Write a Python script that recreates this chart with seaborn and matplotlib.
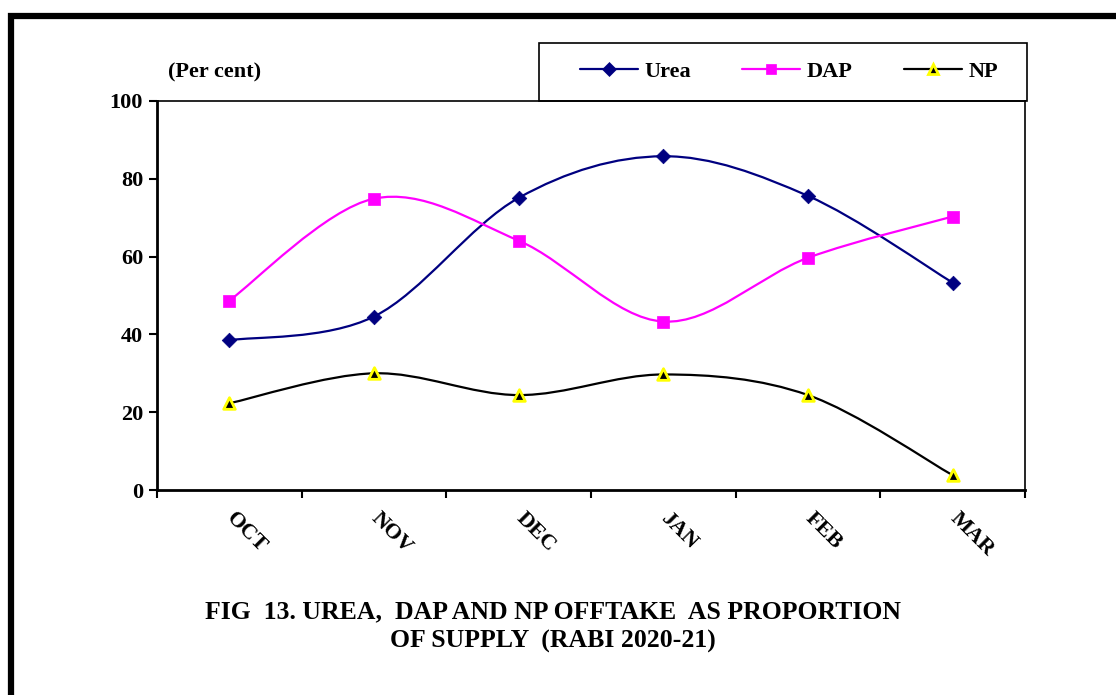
import numpy as np
import matplotlib
matplotlib.use("Agg")
import matplotlib.pyplot as plt
from matplotlib.path import Path
from matplotlib.patches import PathPatch, Rectangle
from matplotlib.lines import Line2D
import seaborn as sns

# data
months = ["OCT", "NOV", "DEC", "JAN", "FEB", "MAR"]
urea = [38.5, 44.6, 75.1, 85.8, 75.6, 53.3]
dap = [48.7, 74.9, 64.1, 43.3, 59.7, 70.3]
np_ = [22.3, 30.0, 24.4, 29.7, 24.4, 3.8]
yticks = [0, 20, 40, 60, 80, 100]

sns.set_style("ticks")
plt.rcParams["font.family"] = ["Liberation Serif", "DejaVu Serif"]
plt.rcParams["font.weight"] = "bold"
plt.rcParams["text.color"] = "black"
plt.rcParams["xtick.color"] = "black"
plt.rcParams["ytick.color"] = "black"
plt.rcParams["axes.edgecolor"] = "black"

W, H = 1116, 695
fig = plt.figure(figsize=(W / 100, H / 100), dpi=100)
ax = fig.add_axes([157 / W, 1 - 490 / H, (1025 - 157) / W, (490 - 101) / H])


def smooth_path(xs, ys):
    # Excel-style smoothed line: cubic bezier through points (catmull-rom tangents)
    pts = np.column_stack([xs, ys]).astype(float)
    n = len(pts)
    verts = [pts[0]]
    codes = [Path.MOVETO]
    for i in range(n - 1):
        p0 = pts[max(i - 1, 0)]
        p1 = pts[i]
        p2 = pts[i + 1]
        p3 = pts[min(i + 2, n - 1)]
        c1 = p1 + (p2 - p0) / 6.0
        c2 = p2 - (p3 - p1) / 6.0
        verts += [c1, c2, p2]
        codes += [Path.CURVE4] * 3
    return Path(verts, codes)


x = np.arange(len(months))
series = [
    ("Urea", urea, "#000080", "D", 55, "#000080", 0.5),
    ("DAP", dap, "#FF00FF", "s", 80, "#FF00FF", 0.5),
    ("NP", np_, "black", "^", 70, "#FFFF00", 2.0),
]
handles = []
for name, vals, col, mk, sz, ec, ew in series:
    ax.add_patch(PathPatch(smooth_path(x, vals), fill=False, edgecolor=col, lw=1.6, zorder=2))
    fc = "black" if name == "NP" else col
    sns.scatterplot(x=x, y=vals, marker=mk, s=sz, color=fc, edgecolor=ec, linewidth=ew, ax=ax, zorder=3)
    handles.append(Line2D([], [], color=col, lw=1.6, marker=mk, markersize=7,
                          markerfacecolor=fc, markeredgecolor=ec, markeredgewidth=ew, label=name))

ax.set_xlim(-0.5, len(months) - 0.5)
ax.set_ylim(0, 100)
ax.set_yticks(yticks)
ax.set_yticklabels([str(v) for v in yticks], fontsize=16, fontweight="bold")
ax.set_xticks(x)
ax.set_xticklabels(months, rotation=-45, ha="left", va="center", rotation_mode="anchor",
                   fontsize=16, fontweight="bold")
ax.set_xticks(np.arange(-0.5, len(months)), minor=True)
ax.tick_params(axis="x", which="major", length=0, pad=18)
ax.tick_params(axis="x", which="minor", length=6, width=1.5, direction="out")
ax.tick_params(axis="y", length=6, width=1.5, direction="out", pad=4)
for side in ["left", "bottom"]:
    ax.spines[side].set_linewidth(2)
for side in ["top", "right"]:
    ax.spines[side].set_linewidth(1.2)
ax.set_xlabel("")
ax.set_ylabel("")

fig.text(168 / W, 1 - 72 / H, "(Per cent)", fontsize=16, fontweight="bold", va="center", ha="left")

# legend box
fig.add_artist(Rectangle((539 / W, 1 - 101 / H), (1027 - 539) / W, 58 / H,
                         transform=fig.transFigure, fill=False, edgecolor="black", lw=1.2))
fig.legend(handles=handles, loc="center", bbox_to_anchor=(789 / W, 1 - 72 / H), ncol=3,
           frameon=False, handlelength=2.6, handletextpad=0.3, columnspacing=2.3,
           prop={"size": 16, "weight": "bold"})

fig.text(553 / W, 1 - 627 / H, "FIG  13. UREA,  DAP AND NP OFFTAKE  AS PROPORTION\nOF SUPPLY  (RABI 2020-21)",
         ha="center", va="center", multialignment="center", fontsize=18.5, fontweight="bold", linespacing=1.35)

# outer frame
fig.add_artist(Rectangle((11 / W, -0.1), 1.2, (1 - 16 / H) + 0.1, transform=fig.transFigure,
                         fill=False, edgecolor="black", lw=4.5))

fig.savefig("out.png", dpi=100)
